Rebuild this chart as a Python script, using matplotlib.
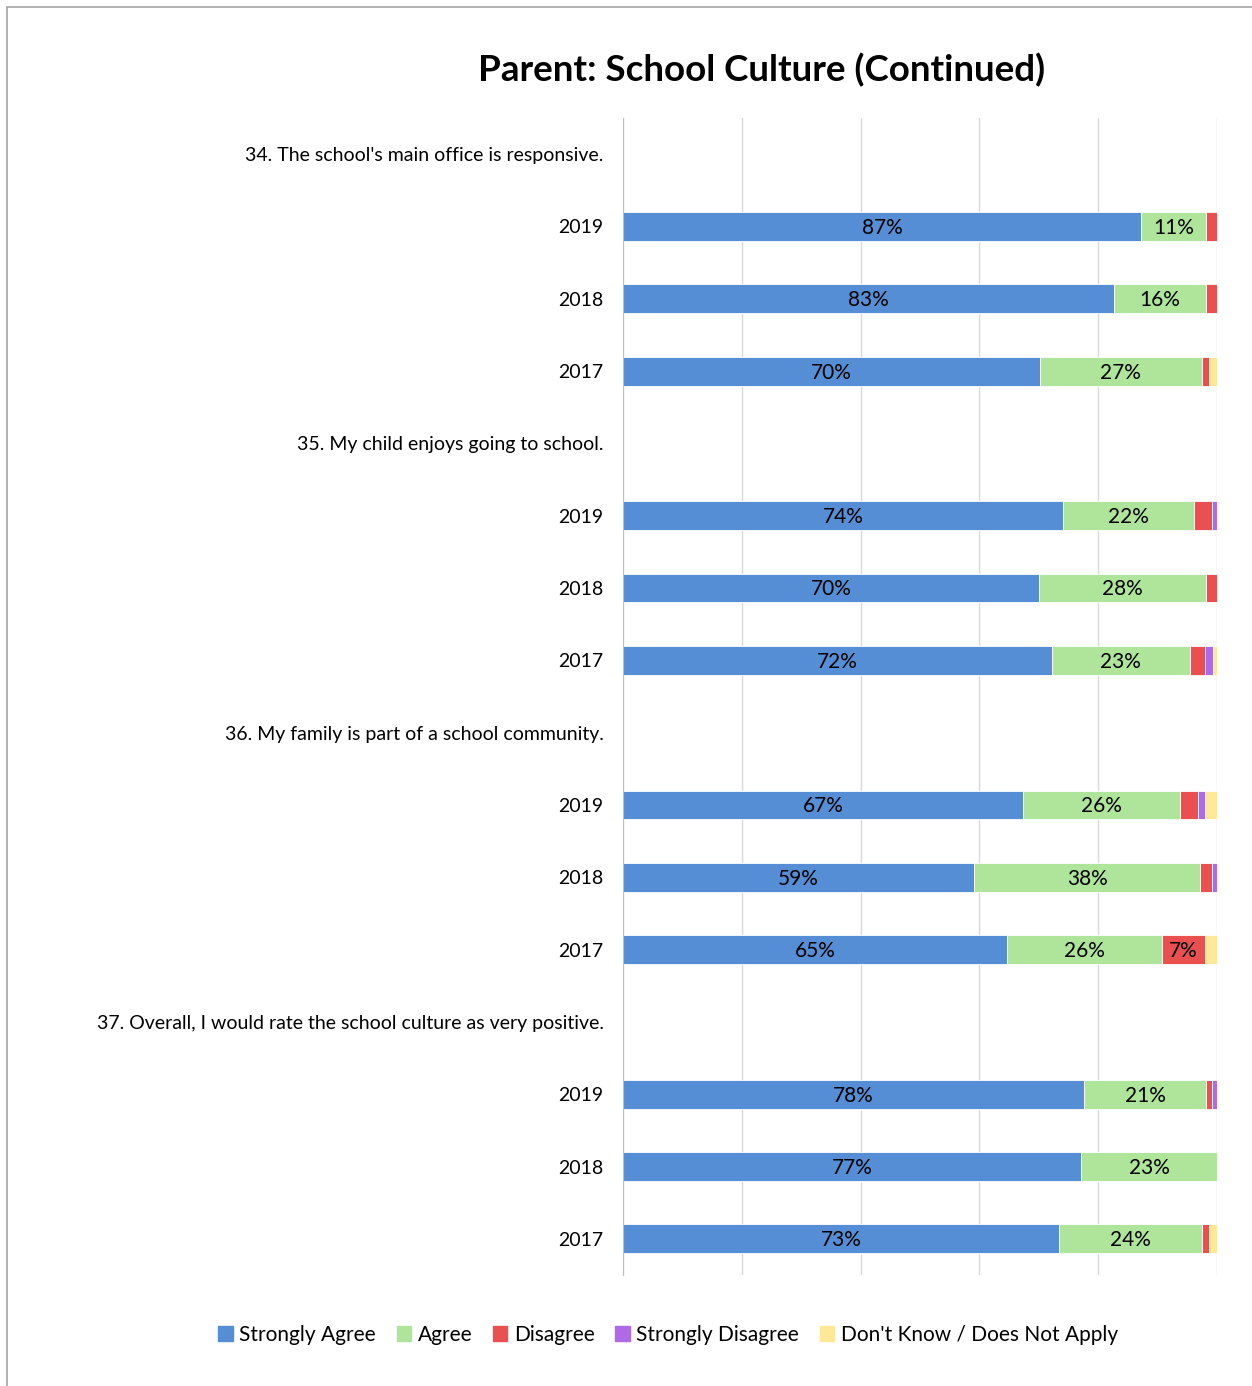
import numpy as np
import matplotlib.pyplot as plt
from matplotlib.patches import Rectangle

plt.rcParams['font.family'] = ['Lato', 'DejaVu Sans']

questions = [
    "34. The school's main office is responsive.",
    "35. My child enjoys going to school.",
    "36. My family is part of a school community.",
    "37. Overall, I would rate the school culture as very positive.",
]
years = ['2019', '2018', '2017']
series = ['Strongly Agree', 'Agree', 'Disagree', 'Strongly Disagree',
          "Don't Know / Does Not Apply"]
colors = ['#558ED5', '#AFE59A', '#EB5050', '#B06AE6', '#FFE999']

# per question, per year (2019, 2018, 2017): percentages by series
strongly_agree = [[87.2, 82.6, 70.2], [74.1, 70.0, 72.2], [67.4, 59.1, 64.7], [77.6, 77.1, 73.4]]
agree = [[10.9, 15.6, 27.2], [22.1, 28.1, 23.2], [26.4, 38.1, 26.0], [20.6, 22.9, 24.0]]
disagree = [[1.9, 1.8, 1.3], [3.0, 1.9, 2.6], [3.0, 2.0, 7.3], [1.0, 0.0, 1.3]]
strongly_disagree = [[0.0, 0.0, 0.0], [0.8, 0.0, 1.4], [1.1, 0.8, 0.0], [0.8, 0.0, 0.0]]
dont_know = [[0.0, 0.0, 1.3], [0.0, 0.0, 0.6], [2.1, 0.0, 2.0], [0.0, 0.0, 1.3]]
all_series = [strongly_agree, agree, disagree, strongly_disagree, dont_know]

labels = []
positions = []
rows = []  # (y, values)
y = 0
for qi, q in enumerate(questions):
    labels.append(q)
    positions.append(y)
    y += 1
    for yi, yr in enumerate(years):
        labels.append(yr)
        positions.append(y)
        rows.append((y, [s[qi][yi] for s in all_series]))
        y += 1

fig = plt.figure(figsize=(12.52, 13.86), dpi=100)
ax = fig.add_axes([623 / 1252, 1 - 1275 / 1386, (1217 - 623) / 1252, (1275 - 118) / 1386])

for ypos, vals in rows:
    left = 0
    for si, v in enumerate(vals):
        if v > 0:
            ax.barh(ypos, v, left=left, height=0.4, color=colors[si],
                    edgecolor='white', linewidth=0.6, zorder=3)
            if v >= 5:
                ax.text(left + v / 2, ypos + 0.02, '{:.0f}%'.format(v), ha='center',
                        va='center', fontsize=15, color='black', zorder=4)
        left += v

ax.set_xlim(0, 100)
ax.set_ylim(len(labels) - 0.5, -0.5)
ax.set_yticks(positions)
ax.set_yticklabels(labels, fontsize=14)
ax.tick_params(axis='y', length=0, pad=14)
ax.set_xticks([0, 20, 40, 60, 80, 100])
ax.tick_params(axis='x', length=0, labelbottom=False)
ax.grid(axis='x', color='#D9D9D9', linewidth=1, zorder=0)
for side in ['top', 'right', 'bottom']:
    ax.spines[side].set_visible(False)
ax.spines['left'].set_color('#BFBFBF')
ax.spines['left'].set_zorder(5)

fig.text(762 / 1252, 1 - 70 / 1386, 'Parent: School Culture (Continued)',
         ha='center', va='center', fontsize=26.5, fontweight='bold')

handles = [Rectangle((0, 0), 1, 1, color=c) for c in colors]
fig.legend(handles, series, loc='center', bbox_to_anchor=(668 / 1252, 1 - 1335 / 1386),
           ncol=5, frameon=False, fontsize=15, handlelength=0.7, handleheight=0.7,
           handletextpad=0.3, columnspacing=1.0)

fig.patches.append(Rectangle((7 / 1252, -0.1), 1.2, 1.1 - 7 / 1386, transform=fig.transFigure,
                             fill=False, edgecolor='#A6A6A6', linewidth=1.2))

fig.savefig('out.png', dpi=100)
